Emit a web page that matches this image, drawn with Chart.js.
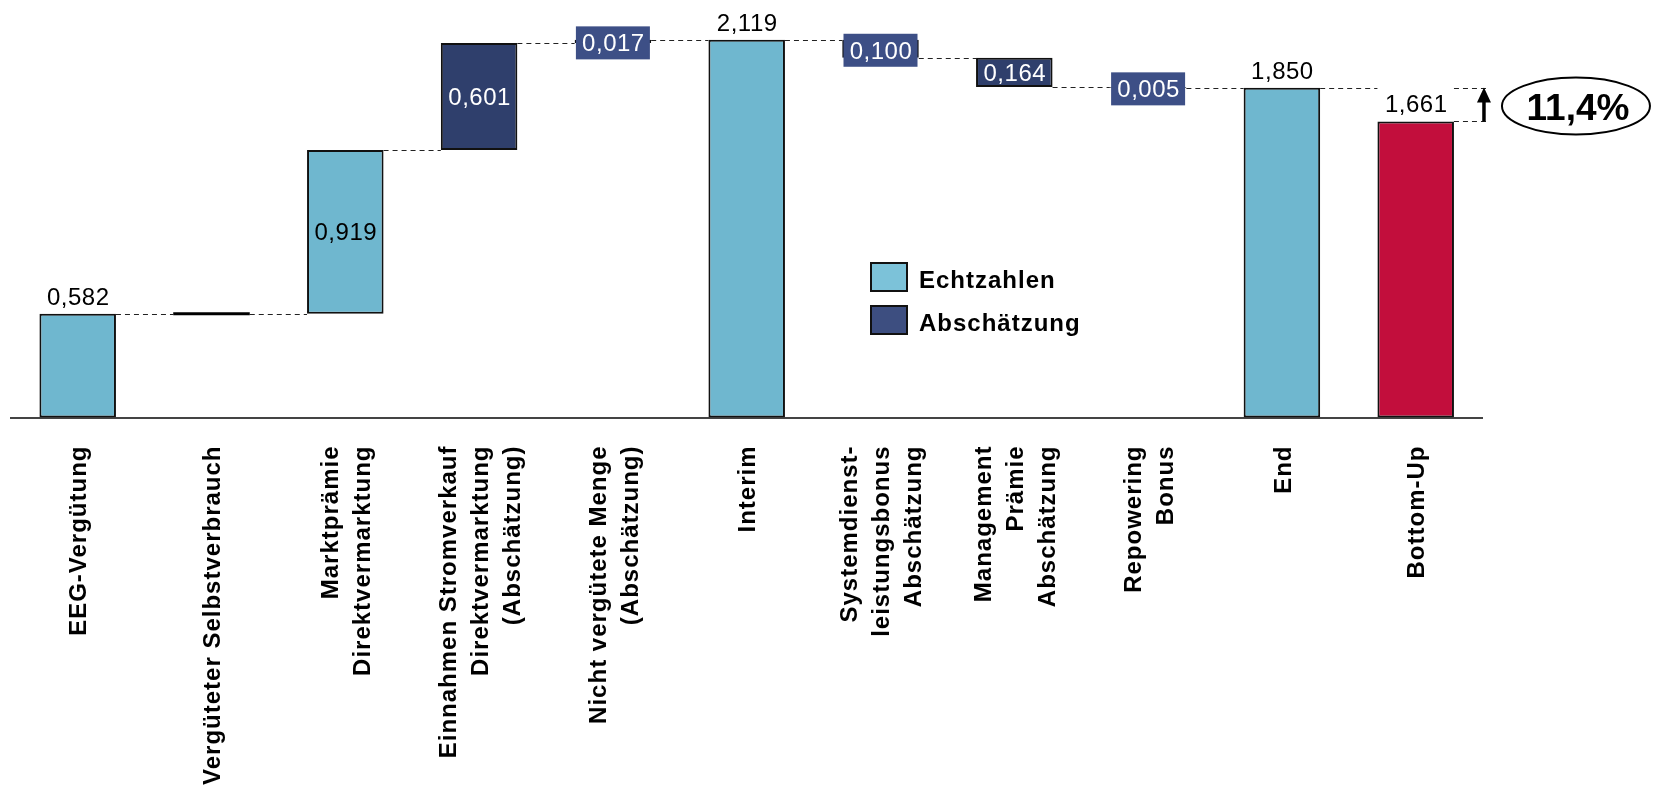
<!DOCTYPE html>
<html><head><meta charset="utf-8">
<script src="https://cdn.jsdelivr.net/npm/chart.js@4.4.0/dist/chart.umd.min.js"></script>
<style>html,body{margin:0;padding:0;background:#fff;overflow:hidden}</style>
</head><body>
<canvas id="c" width="1653" height="791"></canvas>
<script>
// ---- data ----
const categories = [
  ["EEG-Vergütung"],
  ["Vergüteter Selbstverbrauch"],
  ["Marktprämie", "Direktvermarktung"],
  ["Einnahmen Stromverkauf", "Direktvermarktung", "(Abschätzung)"],
  ["Nicht vergütete Menge", "(Abschätzung)"],
  ["Interim"],
  ["Systemdienst-", "leistungsbonus", "Abschätzung"],
  ["Management", "Prämie", "Abschätzung"],
  ["Repowering", "Bonus"],
  ["End"],
  ["Bottom-Up"]
];
const values = [0.582, 0, 0.919, 0.601, 0.017, 2.119, -0.100, -0.164, -0.005, 1.850, 1.661];
const kinds = ["total", "delta", "delta", "delta", "delta", "total", "delta", "delta", "delta", "total", "total"];
const groups = ["real", "real", "real", "est", "est", "real", "est", "est", "est", "real", "bottom"];
const valueLabels = ["0,582", "", "0,919", "0,601", "0,017", "2,119", "0,100", "0,164", "0,005", "1,850", "1,661"];
const labelModes = ["above", "none", "inside", "inside", "box", "above", "box", "inside", "box", "above", "above"];
const legendNames = ["Echtzahlen", "Abschätzung"];
const gapLabel = "11,4%";

// ---- styles ----
const COLORS = { real: "#6FB7CF", est: "#2F3F6C", bottom: "#C20E3C" };
const BOX_COLOR = "#3D4F86";
const LEGEND_COLORS = ["#7CC2D9", "#3D4E80"];
const FONT = '"Liberation Sans", Arial, sans-serif';

// build floating ranges from running sum
let run = 0;
const ranges = values.map((v, i) => {
  if (kinds[i] === "total") { run = v; return [0, v]; }
  const s = run; run = +(run + v).toFixed(3); return [s, run];
});

const overlay = {
  id: "overlay",
  afterDatasetsDraw(chart) {
    const ctx = chart.ctx;
    const meta = chart.getDatasetMeta(0);
    const y = chart.scales.y, xs = chart.scales.x;
    const bars = meta.data;
    const endLevel = i => ranges[i][1];

    // connectors
    ctx.save();
    ctx.strokeStyle = "#222"; ctx.lineWidth = 1; ctx.setLineDash([5, 4]);
    for (let i = 0; i < bars.length - 1; i++) {
      const a = bars[i], b = bars[i + 1];
      const py = Math.round(y.getPixelForValue(endLevel(i))) + 0.5;
      ctx.beginPath();
      ctx.moveTo(a.x + a.width / 2, py);
      ctx.lineTo(b.x - b.width / 2, py);
      ctx.stroke();
    }
    const last = bars[bars.length - 1];
    const lvTop = ranges[bars.length - 2][1], lvBot = ranges[bars.length - 1][1];
    const yTop = Math.round(y.getPixelForValue(lvTop)) + 0.5;
    const yBot = Math.round(y.getPixelForValue(lvBot)) + 0.5;
    const rx = last.x + last.width / 2;
    [yTop, yBot].forEach(py => {
      ctx.beginPath(); ctx.moveTo(rx, py); ctx.lineTo(rx + 36, py); ctx.stroke();
    });
    ctx.restore();

    // zero-value bars as a thick line
    ctx.save();
    ctx.strokeStyle = "#000"; ctx.lineWidth = 3;
    bars.forEach((b, i) => {
      if (kinds[i] === "delta" && values[i] === 0) {
        const py = y.getPixelForValue(ranges[i][0]);
        ctx.beginPath(); ctx.moveTo(b.x - b.width / 2, py); ctx.lineTo(b.x + b.width / 2, py); ctx.stroke();
      }
    });
    ctx.restore();

    // value labels
    ctx.save();
    ctx.font = "24px " + FONT;
    ctx.letterSpacing = "0.5px";
    ctx.textAlign = "center";
    ctx.textBaseline = "alphabetic";
    bars.forEach((b, i) => {
      const mode = labelModes[i], txt = valueLabels[i];
      if (mode === "none") return;
      const top = y.getPixelForValue(Math.max(ranges[i][0], ranges[i][1]));
      const mid = y.getPixelForValue((ranges[i][0] + ranges[i][1]) / 2);
      if (mode === "above") {
        ctx.fillStyle = "#000";
        ctx.fillText(txt, b.x + 0.5, top - 9);
      } else if (mode === "inside") {
        ctx.fillStyle = groups[i] === "est" ? "#fff" : "#000";
        ctx.fillText(txt, b.x + 0.5, mid + 8.5);
      } else if (mode === "box") {
        const cy = mid + 1.5;
        ctx.fillStyle = BOX_COLOR;
        ctx.fillRect(b.x - 37, cy - 16.5, 74, 33);
        ctx.fillStyle = "#fff";
        ctx.fillText(txt, b.x + 0.5, cy + 8.5);
      }
    });
    ctx.restore();

    // arrow
    const ax = rx + 30;
    ctx.save();
    ctx.strokeStyle = "#000"; ctx.fillStyle = "#000"; ctx.lineWidth = 3.5;
    ctx.beginPath(); ctx.moveTo(ax, yBot); ctx.lineTo(ax, yTop + 10); ctx.stroke();
    ctx.beginPath(); ctx.moveTo(ax, yTop - 1); ctx.lineTo(ax - 7, yTop + 14); ctx.lineTo(ax + 7, yTop + 14); ctx.closePath(); ctx.fill();
    // ellipse
    const ecx = ax + 92, ecy = (yTop + yBot) / 2 + 1;
    ctx.lineWidth = 2;
    ctx.beginPath(); ctx.ellipse(ecx, ecy, 74, 28.5, 0, 0, Math.PI * 2); ctx.stroke();
    ctx.font = "bold 37px " + FONT;
    ctx.textAlign = "center"; ctx.textBaseline = "alphabetic";
    ctx.fillText(gapLabel, ecx + 2, ecy + 14);
    ctx.restore();

    // legend
    ctx.save();
    ctx.font = "bold 24px " + FONT;
    ctx.letterSpacing = "1px";
    ctx.textAlign = "left"; ctx.textBaseline = "alphabetic";
    legendNames.forEach((name, k) => {
      const by = 263 + k * 43;
      ctx.fillStyle = LEGEND_COLORS[k];
      ctx.fillRect(871, by, 36, 28);
      ctx.strokeStyle = "#111"; ctx.lineWidth = 2;
      ctx.strokeRect(871, by, 36, 28);
      ctx.fillStyle = "#000";
      ctx.fillText(name, 919, by + 25);
    });
    ctx.restore();

    // category labels (rotated)
    ctx.save();
    ctx.font = "bold 24px " + FONT;
    ctx.letterSpacing = "1px";
    ctx.fillStyle = "#000";
    ctx.textAlign = "right"; ctx.textBaseline = "middle";
    const labelTop = xs.bottom + 28;
    categories.forEach((lines, i) => {
      const cx = xs.getPixelForValue(i);
      const n = lines.length;
      lines.forEach((line, j) => {
        ctx.save();
        ctx.translate(cx + (j - (n - 1) / 2) * 32 + 2, labelTop);
        ctx.rotate(-Math.PI / 2);
        ctx.fillText(line, 0, 0);
        ctx.restore();
      });
    });
    ctx.restore();
  }
};

new Chart(document.getElementById("c"), {
  type: "bar",
  data: {
    labels: categories.map(l => l.join(" ")),
    datasets: [{
      data: ranges,
      backgroundColor: groups.map(g => COLORS[g]),
      borderColor: "#111",
      borderWidth: 2,
      borderSkipped: false,
      barPercentage: 0.572,
      categoryPercentage: 1
    }]
  },
  options: {
    responsive: false,
    animation: false,
    devicePixelRatio: 1,
    layout: { padding: { left: 10.8, right: 170.4, top: 7.6, bottom: 373.5 } },
    plugins: { legend: { display: false }, tooltip: { enabled: false } },
    scales: {
      x: {
        offset: true,
        grid: { display: false, drawTicks: false },
        ticks: { display: false },
        border: { display: true, color: "#444", width: 2 }
      },
      y: { display: false, min: 0, max: 2.3 }
    }
  },
  plugins: [overlay]
});
</script>
</body></html>
